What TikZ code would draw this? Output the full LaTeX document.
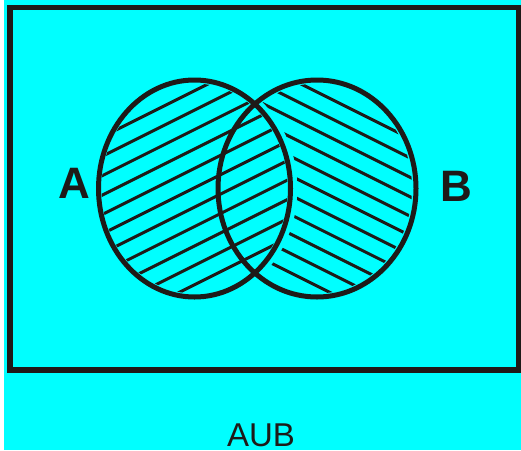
\documentclass[tikz,border=0pt]{standalone}
\usepackage{fontspec}
\setmainfont{Liberation Sans}
\definecolor{ink}{HTML}{1E1A18}
\definecolor{bgcyan}{HTML}{00FFFF}

\begin{document}
\begin{tikzpicture}[
    x=1pt, y=-1pt,
    frame/.style   = {line width=5.5pt, draw=ink},
    setline/.style = {line width=5pt, draw=ink},
    hatch/.style   = {line width=3pt, draw=ink},
    setlab/.style  = {font=\fontsize{44}{44}\selectfont\bfseries, text=ink, inner sep=0pt},
    caption/.style = {font=\fontsize{33}{33}\selectfont, text=ink, inner sep=0pt},
]
\useasboundingbox (0,0) rectangle (521,450);

% ---- background and universe ----
\fill[bgcyan] (3.5,0) rectangle (521,450);
\draw[frame] (9.8,7.5) rectangle (518.5,370);

% ---- set centres ----
\coordinate (cA) at (194.5,188.5);
\coordinate (cB) at (317,188.5);

% ---- hatching of A (rising) ----
\begin{scope}
  \clip (cA) ellipse [x radius=93pt, y radius=105pt];
  \foreach \c in {0,...,10}
    \draw[hatch] (80,{188+19.4*\c-40}) -- (330,{188+19.4*\c-165});
\end{scope}

% ---- hatching of B outside A (falling) ----
\begin{scope}[even odd rule]
  \clip (0,0) rectangle (521,450)
        (cA) ellipse [x radius=103pt, y radius=115pt];
  \clip (cB) ellipse [x radius=95pt, y radius=105pt];
  \foreach \d in {0,...,10}
    \draw[hatch] (200,{-66.5+19.4*\d+100}) -- (440,{-66.5+19.4*\d+220});
\end{scope}

% ---- set outlines ----
\draw[setline] (cA) ellipse [x radius=96pt, y radius=108.5pt];
\draw[setline] (cB) ellipse [x radius=99pt, y radius=108.5pt];

% ---- labels ----
\node[setlab]  (labA)  at (74.5,183.5) {A};
\node[setlab]  (labB)  at (456.5,186)  {B};
\node[caption] (union) at (261,435)    {AUB};

\end{tikzpicture}
\end{document}
